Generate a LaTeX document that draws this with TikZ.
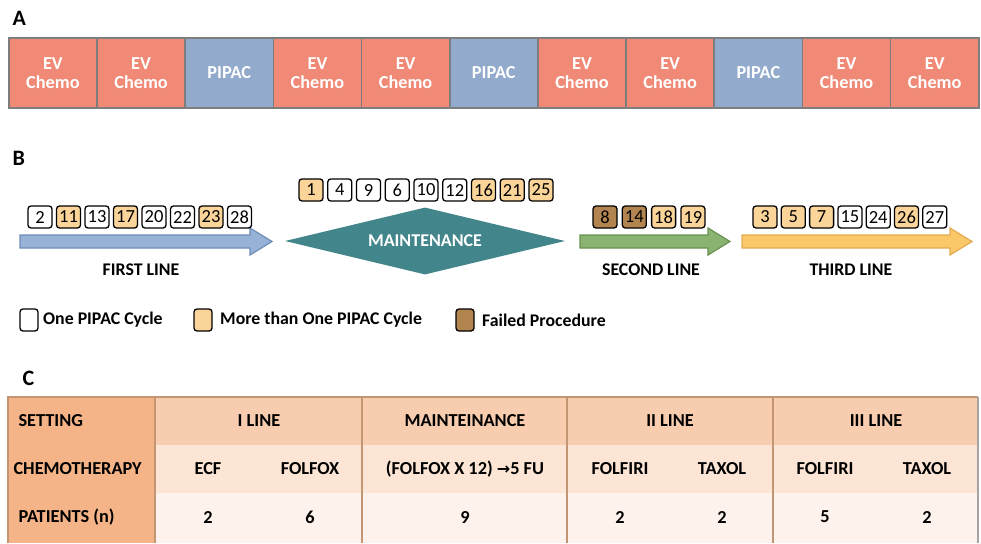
\documentclass[tikz,border=0pt]{standalone}
\usepackage{fontspec}
\setmainfont{Carlito}
\newfontfamily\dejavu{DejaVu Sans}
\usetikzlibrary{shapes.geometric}
\definecolor{salmon}{RGB}{240,138,118}
\definecolor{pblue}{RGB}{146,170,203}
\definecolor{gborder}{RGB}{125,125,125}
\definecolor{arrblue}{RGB}{150,178,214}
\definecolor{arrblueD}{RGB}{110,140,185}
\definecolor{teal}{RGB}{66,133,139}
\definecolor{arrgreen}{RGB}{138,178,112}
\definecolor{arrgreenD}{RGB}{105,145,80}
\definecolor{arryel}{RGB}{250,200,105}
\definecolor{arryelD}{RGB}{230,170,80}
\definecolor{lorange}{RGB}{250,212,152}
\definecolor{brown}{RGB}{178,133,80}
\definecolor{tcol}{RGB}{244,180,135}
\definecolor{trowA}{RGB}{248,205,175}
\definecolor{trowB}{RGB}{252,229,213}
\definecolor{trowC}{RGB}{253,243,236}
\definecolor{tline}{RGB}{195,150,115}
\tikzset{
  cell/.style={draw=gborder, line width=1.6pt, minimum width=88.2pt, minimum height=70pt, inner sep=0pt, text=white, font=\bfseries\fontsize{18.3}{19}\selectfont, align=center, anchor=north west},
  evc/.style={cell, fill=salmon},
  pip/.style={cell, fill=pblue},
  nb/.style={draw=black, rounded corners=3pt, line width=1.3pt, minimum width=24pt, minimum height=22pt, inner sep=0pt, font=\fontsize{18.5}{18.5}\selectfont},
  nw/.style={nb, fill=white},
  no/.style={nb, fill=lorange},
  nbr/.style={nb, fill=brown},
  lbl/.style={font=\bfseries\fontsize{17.8}{17.8}\selectfont},
  sect/.style={font=\bfseries\fontsize{22}{22}\selectfont, anchor=west},
  ttxt/.style={font=\bfseries\fontsize{18.3}{18.3}\selectfont},
}
\begin{document}
\begin{tikzpicture}[x=1pt,y=-1pt]
\useasboundingbox (0,0) rectangle (981,543);
% Panel A
\node[sect] (la) at (9,18) {A};
\foreach \i/\t in {0/e,1/e,2/p,3/e,4/e,5/p,6/e,7/e,8/p,9/e,10/e}{
  \pgfmathsetmacro{\xx}{8+88.18*\i}
  \if\t e
    \node[evc] (a\i) at (\xx,37) {EV\\Chemo};
  \else
    \node[pip] (a\i) at (\xx,37) {PIPAC};
  \fi
}
% Panel B
\node[sect] (lb) at (9,158) {B};
% arrows
\draw[fill=arrblue, draw=arrblueD, line width=1.2pt] (20,235) -- (250,235) -- (250,228) -- (272,241.5) -- (250,255) -- (250,248) -- (20,248) -- cycle;
\draw[fill=arrgreen, draw=arrgreenD, line width=1.2pt] (580,235) -- (708,235) -- (708,228) -- (730,241.5) -- (708,255) -- (708,248) -- (580,248) -- cycle;
\draw[fill=arryel, draw=arryelD, line width=1.2pt] (742,235) -- (950,235) -- (950,228) -- (972,241.5) -- (950,255) -- (950,248) -- (742,248) -- cycle;
\node[diamond, fill=teal, minimum width=280pt, minimum height=67pt, inner sep=0pt, aspect=4.2, text=white, font=\bfseries\fontsize{18}{18}\selectfont] (maint) at (425,241) {MAINTENANCE};
\node[lbl] (fl) at (141,270) {FIRST LINE};
\node[lbl] (sl) at (651,270) {SECOND LINE};
\node[lbl] (tl) at (851,270) {THIRD LINE};
% number boxes
\foreach \n/\s [count=\k from 0] in {2/nw,11/no,13/nw,17/no,20/nw,22/nw,23/no,28/nw}{
  \node[\s] (f\k) at (40+28.5*\k,217) {\n};
}
\foreach \n/\s [count=\k from 0] in {1/no,4/nw,9/nw,6/nw,10/nw,12/nw,16/no,21/no,25/no}{
  \node[\s] (m\k) at (311+28.75*\k,190) {\n};
}
\foreach \n/\s [count=\k from 0] in {8/nbr,14/nbr,18/no,19/no}{
  \node[\s] (s\k) at (605+29.3*\k,217) {\n};
}
\foreach \n/\s [count=\k from 0] in {3/no,5/no,7/no,15/nw,24/nw,26/no,27/nw}{
  \node[\s] (t\k) at (765+28.3*\k,217) {\n};
}
% legend
\node[nb, fill=white, minimum width=18pt, minimum height=22pt] (lg1) at (29,320) {};
\node[lbl, anchor=west, inner sep=0pt] (lt1) at (43,320) {One PIPAC Cycle};
\node[nb, fill=lorange, minimum width=18pt, minimum height=22pt] (lg2) at (203,320) {};
\node[lbl, anchor=west, inner sep=0pt] (lt2) at (220,320) {More than One PIPAC Cycle};
\node[nb, fill=brown, minimum width=18pt, minimum height=22pt] (lg3) at (465,320) {};
\node[lbl, anchor=west, inner sep=0pt] (lt3) at (482,320) {Failed Procedure};
% Panel C
\node[sect] (lc) at (19,378) {C};
\fill[trowA] (155,397) rectangle (978,445);
\fill[trowB] (155,445) rectangle (978,493);
\fill[trowC] (155,493) rectangle (978,543);
\fill[tcol] (8,397) rectangle (155,543);
\draw[tline, line width=1.2pt] (8,543) -- (8,397) -- (978,397);
\foreach \xx in {155,362,567,773}{ \draw[tline, line width=1.2pt] (\xx,397) -- (\xx,543); }
\draw[gborder!70, line width=1.2pt] (978,397) -- (978,543);
\node[ttxt, anchor=west] (c11) at (15,421) {SETTING};
\node[ttxt, anchor=west] (c21) at (10,469) {CHEMOTHERAPY};
\node[ttxt, anchor=west] (c31) at (15,517) {PATIENTS (n)};
\node[ttxt] (h1) at (259,421) {I LINE};
\node[ttxt] (h2) at (465,421) {MAINTEINANCE};
\node[ttxt] (h3) at (670,421) {II LINE};
\node[ttxt] (h4) at (876,421) {III LINE};
\node[ttxt] (r1) at (208,469) {ECF};
\node[ttxt] (r2) at (310,469) {FOLFOX};
\node[ttxt] (r3) at (465,469) {(FOLFOX X 12) {\dejavu\fontsize{16}{16}\selectfont\symbol{"2192}}5 FU};
\node[ttxt] (r4) at (620,469) {FOLFIRI};
\node[ttxt] (r5) at (722,469) {TAXOL};
\node[ttxt] (r6) at (825,469) {FOLFIRI};
\node[ttxt] (r7) at (927,469) {TAXOL};
\node[ttxt] (p1) at (208,517) {2};
\node[ttxt] (p2) at (310,517) {6};
\node[ttxt] (p3) at (465,517) {9};
\node[ttxt] (p4) at (620,517) {2};
\node[ttxt] (p5) at (722,517) {2};
\node[ttxt] (p6) at (825,517) {5};
\node[ttxt] (p7) at (927,517) {2};
\end{tikzpicture}
\end{document}
